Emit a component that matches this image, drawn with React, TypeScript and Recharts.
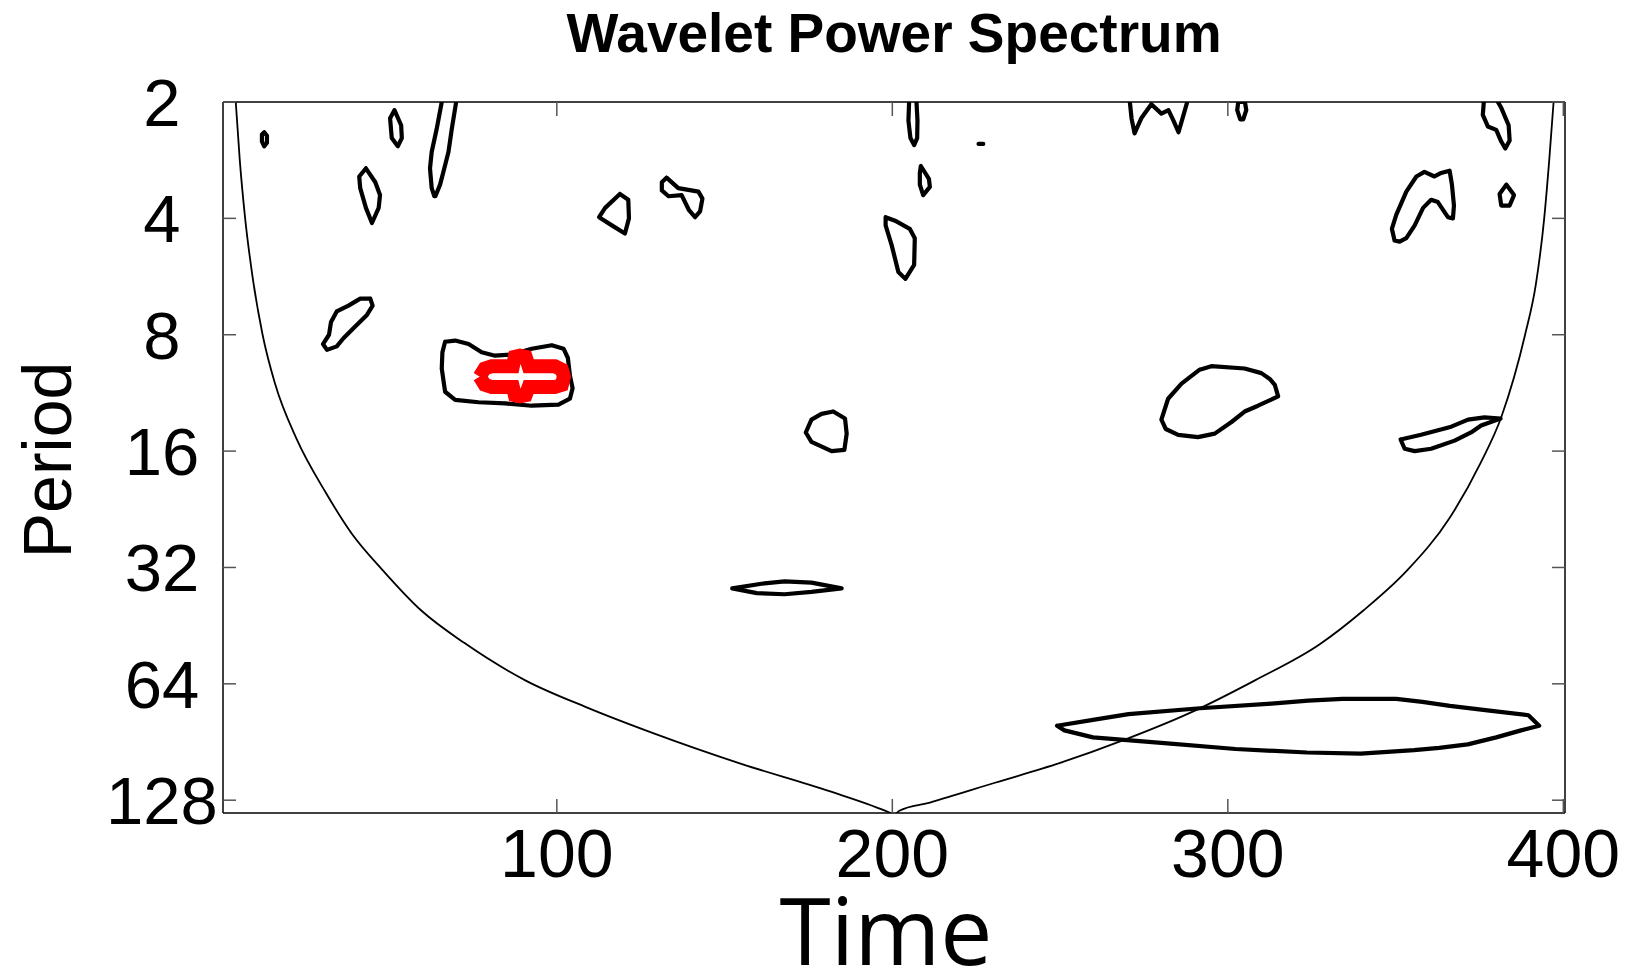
import React from 'react';
import { LineChart, Line, XAxis, YAxis } from 'recharts';

type P = [number, number]; // [time, log2(period)]

// axis ticks
const timeTicks = [100, 200, 300, 400];
const periodTickLog2 = [1, 2, 3, 4, 5, 6, 7];
const periodTickLabels = ['2', '4', '8', '16', '32', '64', '128'];

// cone of influence (left and right branches)
const coiLeftTime = [4.3, 5.5, 7.1, 9.3, 12.3, 16.0, 22.5, 31.2, 38.9, 48, 59.6, 72.5, 90.6, 108.7, 129.3, 155.2, 181, 197.8, 199.8];
const coiLeftLog2Period = [1.0, 1.5, 2.0, 2.5, 3.0, 3.42, 3.9, 4.36, 4.71, 5.02, 5.37, 5.65, 5.97, 6.2, 6.43, 6.69, 6.92, 7.09, 7.115];
const coiRightTime = [201.2, 202.1, 211.2, 230.6, 250, 269.3, 288.7, 308.1, 327.4, 340.4, 353.3, 366.2, 375.2, 381.6, 388.6, 391.8, 394.3, 395.8, 397.1];
const coiRightLog2Period = [7.115, 7.09, 7.02, 6.85, 6.68, 6.48, 6.25, 5.97, 5.66, 5.37, 5.03, 4.57, 4.11, 3.7, 3.0, 2.57, 2.0, 1.5, 1.0];

// closed power contours
const contour01: P[] = [[12.8, 1.26], [13.6, 1.29], [13.6, 1.35], [12.8, 1.38], [12.1, 1.34], [12.1, 1.28]];
const contour02: P[] = [[51.6, 1.07], [53.6, 1.2], [53.8, 1.31], [52.6, 1.38], [50.8, 1.31], [50.3, 1.14]];
const contour04: P[] = [[43.1, 1.57], [45.9, 1.69], [47.3, 1.8], [46.9, 1.91], [44.9, 2.04], [43.1, 1.91], [41.4, 1.74], [41.1, 1.64]];
const contour05: P[] = [[44.4, 2.69], [45.1, 2.75], [43.4, 2.83], [39.9, 2.93], [36.4, 3.03], [34.4, 3.1], [31.5, 3.13], [30.3, 3.08], [32.1, 3.0], [32.7, 2.89], [34.4, 2.8], [37.9, 2.75], [41.4, 2.69]];
const contour06: P[] = [[66.7, 3.06], [69.7, 3.05], [73.7, 3.08], [77.6, 3.15], [81.6, 3.18], [86.6, 3.17], [92.5, 3.12], [98.5, 3.09], [102.0, 3.12], [103.3, 3.2], [103.9, 3.35], [104.7, 3.46], [103.9, 3.55], [100.5, 3.6], [92.5, 3.61], [84.6, 3.59], [76.7, 3.58], [69.7, 3.56], [66.7, 3.49], [65.7, 3.29], [65.9, 3.15]];
const contour07: P[] = [[118.8, 1.79], [121.3, 1.84], [121.5, 2.0], [120.3, 2.13], [116.4, 2.06], [112.6, 1.99], [114.4, 1.91]];
const contour08: P[] = [[132.7, 1.65], [136.2, 1.74], [142.2, 1.77], [143.4, 1.83], [142.7, 1.94], [141.2, 1.99], [139.4, 1.93], [137.2, 1.8], [133.3, 1.81], [131.3, 1.76], [131.3, 1.69]];
const contour10: P[] = [[208.5, 1.55], [210.9, 1.66], [211.2, 1.73], [209.2, 1.8], [208.2, 1.71], [208.2, 1.61]];
const contour12: P[] = [[198.0, 1.99], [200.8, 2.02], [205.2, 2.09], [206.7, 2.17], [206.5, 2.4], [203.9, 2.52], [201.8, 2.46], [199.8, 2.23], [198.0, 2.06]];
const contour14: P[] = [[303.1, 1.0], [305.1, 1.0], [305.5, 1.07], [304.6, 1.15], [303.7, 1.15], [302.8, 1.07]];
const contour16: P[] = [[349.7, 2.19], [348.9, 2.09], [350.2, 1.97], [353.2, 1.77], [356.2, 1.64], [358.6, 1.6], [361.6, 1.64], [363.6, 1.61], [366.1, 1.59], [366.8, 1.71], [367.4, 1.89], [367.1, 2.0], [365.6, 1.99], [362.6, 1.86], [360.6, 1.84], [358.2, 1.91], [355.7, 2.06], [353.2, 2.17], [351.2, 2.2]];
const contour17: P[] = [[383.0, 1.71], [385.3, 1.8], [384.0, 1.89], [381.5, 1.89], [381.0, 1.79]];
const contour18: P[] = [[291.6, 3.3], [295.1, 3.27], [305.0, 3.29], [310.0, 3.33], [312.5, 3.38], [314.0, 3.43], [315.0, 3.53], [309.0, 3.61], [305.0, 3.66], [301.1, 3.75], [296.1, 3.85], [291.1, 3.88], [285.2, 3.86], [281.5, 3.81], [280.2, 3.73], [282.2, 3.55], [286.2, 3.42]];
const contour19: P[] = [[351.5, 3.9], [357.6, 3.86], [366.6, 3.79], [371.6, 3.73], [376.5, 3.71], [381.3, 3.72], [375.5, 3.78], [372.5, 3.84], [367.6, 3.91], [360.6, 3.98], [355.7, 4.0], [352.7, 3.98]];
const contour20: P[] = [[182.4, 3.66], [185.9, 3.72], [186.4, 3.85], [185.7, 3.99], [181.9, 4.0], [175.9, 3.92], [174.2, 3.84], [175.9, 3.73], [178.9, 3.68]];
const contour21: P[] = [[152.3, 5.18], [161.0, 5.14], [167.9, 5.12], [175.9, 5.13], [184.9, 5.18], [175.9, 5.21], [167.9, 5.23], [159.6, 5.22]];
const contour22: P[] = [[249.1, 6.36], [259.8, 6.31], [270.4, 6.26], [291.7, 6.21], [313.0, 6.17], [324.0, 6.145], [334.2, 6.13], [350.2, 6.13], [358.0, 6.155], [366.2, 6.19], [378.0, 6.23], [389.6, 6.27], [392.8, 6.36], [387.4, 6.4], [380.0, 6.46], [371.5, 6.52], [363.0, 6.55], [355.5, 6.57], [339.6, 6.6], [323.6, 6.59], [302.3, 6.56], [281.1, 6.51], [259.8, 6.46], [251.3, 6.4]];

// contours cut by the top edge (open)
const contour03: P[] = [[65.7, 1.0], [64.2, 1.23], [62.7, 1.43], [62.2, 1.57], [62.7, 1.74], [63.5, 1.81], [63.8, 1.81], [65.2, 1.71], [66.2, 1.6], [67.7, 1.43], [68.7, 1.23], [70.0, 1.0]];
const contour09: P[] = [[205.0, 1.0], [204.8, 1.16], [205.4, 1.31], [206.5, 1.37], [207.4, 1.31], [207.5, 1.16], [207.2, 1.0]];
const contour11: P[] = [[225.7, 1.36], [227.1, 1.36]];
const contour13: P[] = [[270.8, 1.0], [271.3, 1.14], [272.2, 1.27], [274.2, 1.14], [277.2, 1.02], [280.2, 1.1], [282.3, 1.07], [283.8, 1.16], [285.3, 1.26], [286.8, 1.11], [287.9, 1.0]];
const contour15: P[] = [[376.3, 1.0], [376.0, 1.11], [377.5, 1.21], [380.0, 1.24], [381.5, 1.34], [382.7, 1.4], [384.0, 1.33], [383.7, 1.2], [381.5, 1.05], [380.5, 1.0]];

// significance contour (red)
const significant: P[] = [[77.0, 3.36], [78.5, 3.29], [80.6, 3.27], [86.9, 3.27], [87.5, 3.19], [89.0, 3.18], [90.7, 3.19], [91.6, 3.27], [99.4, 3.27], [101.5, 3.3], [102.1, 3.36], [101.5, 3.43], [99.4, 3.45], [91.6, 3.45], [90.7, 3.52], [89.0, 3.53], [87.5, 3.52], [86.9, 3.45], [80.6, 3.45], [78.5, 3.43]];

const closedContours = [contour01, contour02, contour04, contour05, contour06, contour07, contour08, contour10, contour12, contour14, contour16, contour17, contour18, contour19, contour20, contour21, contour22];
const openContours = [contour03, contour09, contour11, contour13, contour15];

const rows = (pts: P[], close: boolean) => {
  const r = pts.map(([t, L]) => ({ t, L }));
  if (close) r.push({ ...r[0] });
  return r;
};
const coiLeftRows = coiLeftTime.map((t, i) => ({ t, L: coiLeftLog2Period[i] }));
const coiRightRows = coiRightTime.map((t, i) => ({ t, L: coiRightLog2Period[i] }));

const FONT = '"Liberation Sans", Arial, Helvetica, sans-serif';
const TICK = '#555';

const BottomTick = (props: any) => {
  const { x, y, payload } = props;
  return (
    <g>
      <line x1={x} x2={x} y1={y} y2={y - 14} stroke={TICK} strokeWidth={1.5} />
      <text x={x} y={y + 64} textAnchor="middle" fontSize={68} fontFamily={FONT} fill="#000">
        {payload.value}
      </text>
    </g>
  );
};
const TopTick = (props: any) => {
  const { x, y } = props;
  return <line x1={x} x2={x} y1={y} y2={y + 14} stroke={TICK} strokeWidth={1.5} />;
};
const LeftTick = (props: any) => {
  const { x, y, payload } = props;
  const idx = periodTickLog2.indexOf(payload.value);
  return (
    <g>
      <line x1={x} x2={x + 13} y1={y} y2={y} stroke={TICK} strokeWidth={1.5} />
      <text x={x - 61} y={y + 24} textAnchor="middle" fontSize={67} fontFamily={FONT} fill="#000">
        {periodTickLabels[idx]}
      </text>
    </g>
  );
};
const RightTick = (props: any) => {
  const { x, y } = props;
  return <line x1={x} x2={x - 13} y1={y} y2={y} stroke={TICK} strokeWidth={1.5} />;
};

const TitleLabel = (props: any) => {
  const vb = props.viewBox || { x: 223, width: 1342 };
  return (
    <text x={vb.x + vb.width / 2} y={52} textAnchor="middle" fontSize={55} fontWeight="bold" fontFamily={FONT} fill="#000">
      Wavelet Power Spectrum
    </text>
  );
};
const TimeLabel = (props: any) => {
  const vb = props.viewBox || { x: 223, y: 813, width: 1342 };
  return (
    <text x={vb.x + vb.width / 2 - 8} y={vb.y + 152} textAnchor="middle" fontSize={93} fontFamily='"Open Sans", sans-serif' fill="#000">
      Time
    </text>
  );
};
const PeriodLabel = () => (
  <text x={71} y={460} transform="rotate(-90, 71, 460)" textAnchor="middle" fontSize={68} fontFamily={FONT} fill="#000">
    Period
  </text>
);

const contourLine = (data: any[], key: string, color: string, width: number) => (
  <Line
    key={key}
    xAxisId="b"
    yAxisId="l"
    data={data}
    dataKey="L"
    type="linear"
    stroke={color}
    strokeWidth={width}
    strokeLinejoin="round"
    strokeLinecap="round"
    dot={false}
    activeDot={false}
    isAnimationActive={false}
  />
);

export default function App() {
  return (
    <div style={{ position: 'absolute', left: 0, top: 0, width: 1627, height: 971, background: '#fff' }}>
      <LineChart width={1627} height={971} margin={{ top: 101, right: 61, bottom: 0, left: 0 }}>
        <XAxis
          xAxisId="b"
          type="number"
          dataKey="t"
          domain={[0.5, 400.5]}
          ticks={timeTicks}
          allowDataOverflow
          height={158}
          tickSize={0}
          tickMargin={0}
          tickLine={false}
          axisLine={{ stroke: '#000', strokeWidth: 1.5 }}
          tick={BottomTick}
          interval={0}
          label={TimeLabel}
        />
        <XAxis
          xAxisId="t"
          orientation="top"
          type="number"
          dataKey="t"
          domain={[0.5, 400.5]}
          ticks={timeTicks}
          allowDataOverflow
          height={1}
          tickSize={0}
          tickMargin={0}
          tickLine={false}
          axisLine={{ stroke: '#000', strokeWidth: 1.5 }}
          tick={TopTick}
          interval={0}
          label={TitleLabel}
        />
        <YAxis
          yAxisId="l"
          type="number"
          dataKey="L"
          domain={[1, 7.11]}
          reversed
          ticks={periodTickLog2}
          allowDataOverflow
          width={223}
          tickSize={0}
          tickMargin={0}
          tickLine={false}
          axisLine={{ stroke: '#000', strokeWidth: 1.5 }}
          tick={LeftTick}
          interval={0}
          label={PeriodLabel}
        />
        <YAxis
          yAxisId="r"
          orientation="right"
          type="number"
          dataKey="L"
          domain={[1, 7.11]}
          reversed
          ticks={periodTickLog2}
          allowDataOverflow
          width={1}
          tickSize={0}
          tickMargin={0}
          tickLine={false}
          axisLine={{ stroke: '#000', strokeWidth: 1.5 }}
          tick={RightTick}
          interval={0}
        />
        <Line
          xAxisId="b"
          yAxisId="l"
          data={coiLeftRows}
          dataKey="L"
          type="monotone"
          stroke="#000"
          strokeWidth={1.8}
          dot={false}
          activeDot={false}
          isAnimationActive={false}
        />
        <Line
          xAxisId="b"
          yAxisId="l"
          data={coiRightRows}
          dataKey="L"
          type="monotone"
          stroke="#000"
          strokeWidth={1.8}
          dot={false}
          activeDot={false}
          isAnimationActive={false}
        />
        {closedContours.map((c, i) => contourLine(rows(c, true), 'c' + i, '#000', 4.2))}
        {openContours.map((c, i) => contourLine(rows(c, false), 'o' + i, '#000', 4.2))}
        <Line
          xAxisId="b"
          yAxisId="l"
          data={rows(significant, true)}
          dataKey="L"
          type="linear"
          stroke="#ff0000"
          strokeWidth={14}
          strokeLinejoin="miter"
          dot={false}
          activeDot={false}
          isAnimationActive={false}
        />
      </LineChart>
    </div>
  );
}
